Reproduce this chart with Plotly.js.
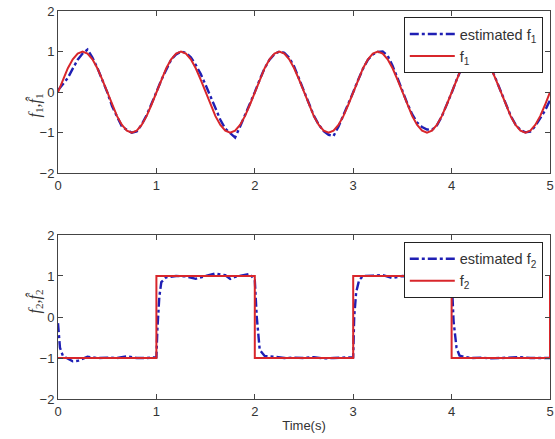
<!DOCTYPE html>
<html>
<head>
<meta charset="utf-8">
<script src="https://cdn.plot.ly/plotly-3.0.1.min.js"></script>
<style>html,body{margin:0;padding:0;background:#fff;}#chart{width:555px;height:439px;}</style>
</head>
<body>
<div id="chart"></div>
<script>
// ---- data ----
const time1 = [0,0.05,0.1,0.15,0.2,0.25,0.3,0.35,0.4,0.45,0.5,0.55,0.6,0.65,0.7,0.75,0.8,0.85,0.9,0.95,
  1,1.05,1.1,1.15,1.2,1.25,1.3,1.35,1.4,1.45,1.5,1.55,1.6,1.65,1.7,1.75,1.8,1.85,1.9,1.95,
  2,2.05,2.1,2.15,2.2,2.25,2.3,2.35,2.4,2.45,2.5,2.55,2.6,2.65,2.7,2.75,2.8,2.85,2.9,2.95,
  3,3.05,3.1,3.15,3.2,3.25,3.3,3.35,3.4,3.45,3.5,3.55,3.6,3.65,3.7,3.75,3.8,3.85,3.9,3.95,
  4,4.05,4.1,4.15,4.2,4.25,4.3,4.35,4.4,4.45,4.5,4.55,4.6,4.65,4.7,4.75,4.8,4.85,4.9,4.95,5];
const f1 = [0,0.31,0.59,0.81,0.95,1,0.95,0.81,0.59,0.31,0,-0.31,-0.59,-0.81,-0.95,-1,-0.95,-0.81,-0.59,-0.31,
  0,0.31,0.59,0.81,0.95,1,0.95,0.81,0.59,0.31,0,-0.31,-0.59,-0.81,-0.95,-1,-0.95,-0.81,-0.59,-0.31,
  0,0.31,0.59,0.81,0.95,1,0.95,0.81,0.59,0.31,0,-0.31,-0.59,-0.81,-0.95,-1,-0.95,-0.81,-0.59,-0.31,
  0,0.31,0.59,0.81,0.95,1,0.95,0.81,0.59,0.31,0,-0.31,-0.59,-0.81,-0.95,-1,-0.95,-0.81,-0.59,-0.31,
  0,0.31,0.59,0.81,0.95,1,0.95,0.81,0.59,0.31,0,-0.31,-0.59,-0.81,-0.95,-1,-0.95,-0.81,-0.59,-0.31,0];
const f1Est = [0.05,0.2,0.35,0.58,0.8,0.95,1.05,0.85,0.6,0.3,0.0,-0.35,-0.62,-0.85,-0.93,-1.0,-0.97,-0.8,-0.57,-0.3,
  0.0,0.3,0.57,0.8,0.93,1.0,0.97,0.86,0.67,0.45,0.18,-0.12,-0.42,-0.68,-0.9,-1.02,-1.12,-0.85,-0.58,-0.3,
  0.0,0.31,0.59,0.8,0.94,1.0,0.97,0.85,0.63,0.33,0.02,-0.29,-0.58,-0.8,-0.96,-1.05,-1.08,-0.85,-0.58,-0.3,
  0.0,0.3,0.58,0.8,0.93,0.99,1.0,0.9,0.65,0.35,0.03,-0.28,-0.55,-0.75,-0.86,-0.92,-0.93,-0.82,-0.6,-0.33,
  -0.02,0.3,0.58,0.8,0.94,1.0,0.96,0.83,0.6,0.32,0.02,-0.3,-0.58,-0.8,-0.93,-0.99,-0.97,-0.84,-0.65,-0.45,-0.2];

const time2 = [0,1,1,2,2,3,3,4,4,5,5];
const f2 = [-1,-1,1,1,-1,-1,1,1,-1,-1,1];
const time2Est = [0,0.02,0.05,0.1,0.15,0.2,0.3,0.4,0.5,0.6,0.7,0.8,0.9,1.0,1.01,1.03,1.05,1.1,1.2,1.3,1.4,1.5,1.6,1.7,1.75,1.8,1.9,1.95,
  2.0,2.02,2.05,2.1,2.2,2.3,2.4,2.5,2.6,2.7,2.8,2.9,3.0,3.01,3.03,3.06,3.1,3.2,3.3,3.4,3.5,3.6,3.7,3.8,3.9,
  4.0,4.02,4.05,4.08,4.12,4.2,4.3,4.4,4.5,4.6,4.7,4.8,4.9,5.0];
const f2Est = [-0.15,-0.75,-0.95,-1.02,-1.08,-1.07,-0.97,-1.0,-0.99,-1.0,-0.96,-1.0,-1.0,-0.98,-0.3,0.5,0.85,0.97,1.0,0.99,0.93,1.0,1.06,1.02,0.93,0.98,1.02,1.05,
  0.9,0.0,-0.8,-0.95,-0.97,-1.0,-0.99,-1.0,-0.98,-1.01,-1.0,-0.99,-0.98,0.0,0.6,0.9,1.0,1.01,1.02,0.95,1.0,0.98,1.0,1.0,0.99,
  0.98,-0.1,-0.75,-0.94,-0.97,-1.0,-0.99,-1.01,-1.0,-1.0,-0.98,-1.0,-1.0,-1.0];

const xTicks = [0,1,2,3,4,5];
const yTicks = [-2,-1,0,1,2];

// ---- styles ----
const blue = '#1f1fb4';
const red = '#d8262b';
const axisCommon = {
  showline: true, mirror: 'allticks', linecolor: '#444', linewidth: 1,
  ticks: 'inside', ticklen: 5, tickcolor: '#444', showgrid: false, zeroline: false,
  tickfont: {family: 'Liberation Sans, Arial, sans-serif', size: 13, color: '#333'}
};

const traces = [
  {x: time1, y: f1Est, xaxis: 'x', yaxis: 'y', mode: 'lines', name: 'estimated f<sub>1</sub>',
   line: {color: blue, width: 2.4, dash: 'dashdot'}, legend: 'legend'},
  {x: time1, y: f1, xaxis: 'x', yaxis: 'y', mode: 'lines', name: 'f<sub>1</sub>',
   line: {color: red, width: 2}, legend: 'legend'},
  {x: time2Est, y: f2Est, xaxis: 'x2', yaxis: 'y2', mode: 'lines', name: 'estimated f<sub>2</sub>',
   line: {color: blue, width: 2.4, dash: 'dashdot'}, legend: 'legend2'},
  {x: time2, y: f2, xaxis: 'x2', yaxis: 'y2', mode: 'lines', name: 'f<sub>2</sub>',
   line: {color: red, width: 2}, legend: 'legend2'}
];

const legendCommon = {
  bgcolor: '#fff', bordercolor: '#222', borderwidth: 1,
  font: {family: 'Liberation Sans, Arial, sans-serif', size: 14.5, color: '#333'},
  xanchor: 'right', yanchor: 'top', itemwidth: 45, tracegroupgap: 0
};

const layout = {
  width: 555, height: 439,
  margin: {l: 0, r: 0, t: 0, b: 0},
  paper_bgcolor: '#fff', plot_bgcolor: '#fff',
  showlegend: true,
  xaxis: Object.assign({}, axisCommon, {domain: [0.1045, 0.991], range: [0, 5], tickvals: xTicks, anchor: 'y'}),
  yaxis: Object.assign({}, axisCommon, {domain: [0.6052, 0.9749], range: [-2, 2], tickvals: yTicks, anchor: 'x'}),
  xaxis2: Object.assign({}, axisCommon, {domain: [0.1045, 0.991], range: [0, 5], tickvals: xTicks, anchor: 'y2',
    title: {text: 'Time(s)', font: {family: 'Liberation Sans, Arial, sans-serif', size: 13, color: '#333'}, standoff: 3}}),
  yaxis2: Object.assign({}, axisCommon, {domain: [0.0911, 0.4647], range: [-2, 2], tickvals: yTicks, anchor: 'x2'}),
  legend: Object.assign({}, legendCommon, {x: 0.978, y: 0.961}),
  legend2: Object.assign({}, legendCommon, {x: 0.978, y: 0.449}),
  annotations: [
    {text: '<i>f</i><sub>1</sub><i>,f&#770;</i><sub>1</sub>', xref: 'paper', yref: 'paper', x: 22/555, y: 1 - 92/439,
     showarrow: false, textangle: -90, font: {family: 'Liberation Serif, serif', size: 16, color: '#333'}},
    {text: '<i>f</i><sub>2</sub><i>,f&#770;</i><sub>2</sub>', xref: 'paper', yref: 'paper', x: 22/555, y: 1 - 316/439,
     showarrow: false, textangle: -90, font: {family: 'Liberation Serif, serif', size: 16, color: '#333'}}
  ]
};

Plotly.newPlot('chart', traces, layout, {displayModeBar: false, staticPlot: true});
</script>
</body>
</html>
